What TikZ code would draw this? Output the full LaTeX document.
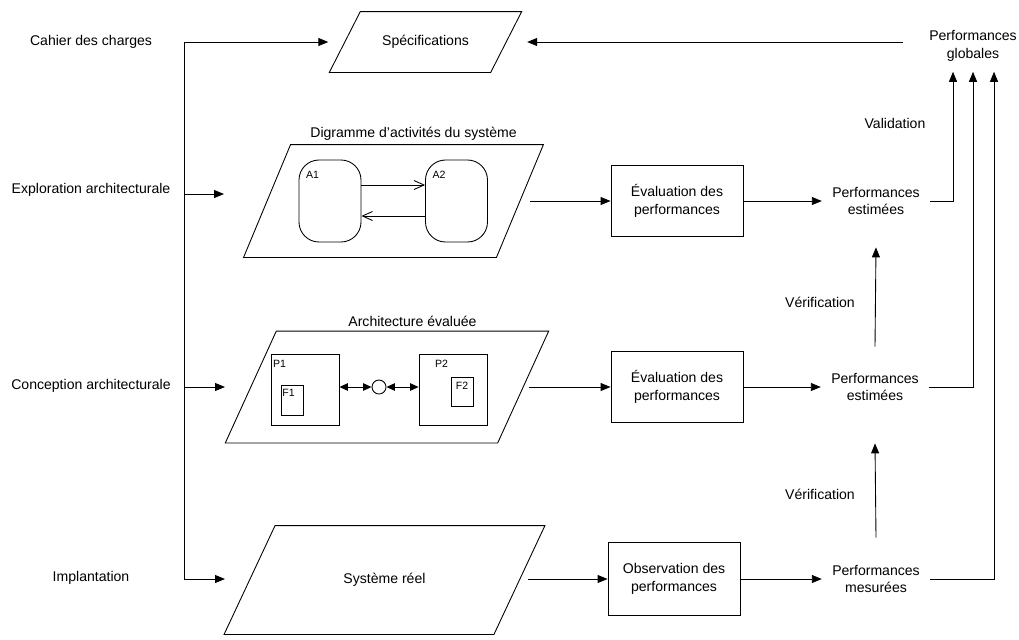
\documentclass[tikz,border=0pt]{standalone}
\usepackage{fontspec}
\setmainfont{Liberation Sans}
\usetikzlibrary{arrows.meta,positioning}

\begin{document}
\begin{tikzpicture}[
    font=\fontsize{8}{10}\selectfont,
    line width=0.5pt,
    para/.style={align=center, inner sep=0pt},
    box/.style={draw, align=center, minimum width=2.64cm, minimum height=1.42cm},
    perf/.style={align=center, inner sep=0.2cm},
    lbl/.style={align=center, inner sep=1pt},
    act/.style={draw, rounded corners=0.4cm, minimum width=1.24cm, minimum height=1.64cm},
    proc/.style={draw, minimum width=1.36cm, minimum height=1.42cm},
    fn/.style={draw, minimum width=0.44cm, minimum height=0.6cm},
    tag/.style={font=\fontsize{6}{7}\selectfont, inner sep=0pt},
    link/.style={draw, circle, minimum size=0.28cm, inner sep=0pt},
    arrow/.style={-{Triangle[length=2mm,width=1.6mm]}},
    openarrow/.style={-{Straight Barb[length=2mm,width=1.8mm]}},
    biarrow/.style={{Triangle[length=1.7mm,width=1.5mm]}-{Triangle[length=1.7mm,width=1.5mm]}}
  ]
    \useasboundingbox (0,0) rectangle (20.38,-12.78);

    % steps on the left
    \node[lbl] (cahier) at (1.82,-0.84) {Cahier des charges};
    \node[lbl] (explo) at (1.82,-3.80) {Exploration architecturale};
    \node[lbl] (concep) at (1.82,-7.72) {Conception architecturale};
    \node[lbl] (implant) at (1.82,-11.56) {Implantation};

    % models (slanted outlines drawn around the nodes)
    \node[para, minimum width=3.21cm, minimum height=1.2cm] (spec) at (8.51,-0.84) {Spécifications};
    \node[para, minimum width=5.04cm, minimum height=2.24cm] (para1) at (7.87,-4.02) {};
    \node[para, minimum width=5.43cm, minimum height=2.22cm] (para2) at (7.74,-7.74) {};
    \node[para, minimum width=5.38cm, minimum height=2.16cm] (para3) at (7.69,-11.6) {Système réel};

    \draw ([xshift=0.31cm]spec.north west) -- ([xshift=0.31cm]spec.north east)
      -- ([xshift=-0.31cm]spec.south east) -- ([xshift=-0.31cm]spec.south west) -- cycle;
    \draw ([xshift=0.47cm]para1.north west) -- ([xshift=0.47cm]para1.north east)
      -- ([xshift=-0.47cm]para1.south east) -- ([xshift=-0.47cm]para1.south west) -- cycle;
    \draw ([xshift=0.51cm]para2.north west) -- ([xshift=0.51cm]para2.north east)
      -- ([xshift=-0.51cm]para2.south east) -- ([xshift=-0.51cm]para2.south west) -- cycle;
    \draw ([xshift=0.51cm]para3.north west) -- ([xshift=0.51cm]para3.north east)
      -- ([xshift=-0.51cm]para3.south east) -- ([xshift=-0.51cm]para3.south west) -- cycle;

    \node[lbl, above=1pt of para1.north, xshift=0.4cm] (digr) {Digramme d'activités du système};
    \node[lbl, above=1pt of para2.north, xshift=0.51cm] (archi) {Architecture évaluée};

    % activity diagram
    \node[act] (a1) at ([xshift=-1.27cm]para1.center) {};
    \node[act] (a2) at ([xshift=1.26cm]para1.center) {};
    \node[tag] (a1t) at ([xshift=0.28cm,yshift=-0.3cm]a1.north west) {A1};
    \node[tag] (a2t) at ([xshift=0.28cm,yshift=-0.3cm]a2.north west) {A2};
    \draw[openarrow] ([yshift=0.32cm]a1.east) -- ([yshift=0.32cm]a2.west);
    \draw[openarrow] ([yshift=-0.3cm]a2.west) -- ([yshift=-0.3cm]a1.east);

    % architecture
    \node[proc] (p1) at ([xshift=-1.64cm,yshift=-0.05cm]para2.center) {};
    \node[proc] (p2) at ([xshift=1.32cm,yshift=-0.05cm]para2.center) {};
    \node[link] (bus) at ([xshift=-0.16cm]para2.center) {};
    \node[fn] (f1) at ([xshift=-0.26cm,yshift=-0.22cm]p1.center) {};
    \node[fn, minimum height=0.58cm] (f2) at ([xshift=0.18cm,yshift=-0.04cm]p2.center) {};
    \node[tag] (p1t) at ([xshift=0.18cm,yshift=-0.2cm]p1.north west) {P1};
    \node[tag] (p2t) at ([xshift=0.46cm,yshift=-0.2cm]p2.north west) {P2};
    \node[tag] (f1t) at ([xshift=0.16cm,yshift=-0.15cm]f1.north west) {F1};
    \node[tag] (f2t) at ([yshift=-0.18cm]f2.north) {F2};
    \draw[biarrow] (p1.east |- bus) -- (bus);
    \draw[biarrow] (bus) -- (p2.west |- bus);

    % evaluation
    \node[box] (eval1) at (13.54,-4.02) {Évaluation des\\performances};
    \node[box] (eval2) at (13.54,-7.74) {Évaluation des\\performances};
    \node[box, minimum height=1.46cm] (obs) at (13.48,-11.58) {Observation des\\performances};

    \node[perf] (perf1) at (17.52,-4.02) {Performances\\estimées};
    \node[perf] (perf2) at (17.5,-7.74) {Performances\\estimées};
    \node[perf] (perf3) at (17.52,-11.58) {Performances\\mesurées};
    \node[perf] (glob) at (19.46,-0.92) {Performances\\globales};

    \node[lbl] (valid) at (17.9,-2.46) {Validation};
    \node[lbl] (verif1) at (16.4,-6.04) {Vérification};
    \node[lbl] (verif2) at (16.4,-9.88) {Vérification};

    % trunk on the left
    \coordinate (jTop) at (3.68,-0.84);
    \coordinate (jExp) at (3.68,-3.88);
    \coordinate (jCon) at (3.68,-7.74);
    \coordinate (jBot) at (3.68,-11.58);
    \coordinate (eExp) at (4.48,-3.88);
    \coordinate (eCon) at (4.5,-7.74);
    \coordinate (eImp) at (4.5,-11.58);
    \coordinate (gOut) at (18.06,-0.84);

    \draw[arrow] (jBot) -- (jTop) -- ([xshift=-0.33cm]spec.west);
    \draw[arrow] (jExp) -- (eExp);
    \draw[arrow] (jCon) -- (eCon);
    \draw[arrow] (jBot) -- (eImp);

    \draw[arrow] ([xshift=0.21cm]para1.east) -- (eval1);
    \draw[arrow] ([xshift=0.12cm]para2.east) -- (eval2);
    \draw[arrow] ([xshift=0.18cm]para3.east |- obs) -- (obs);
    \draw[arrow] (eval1) -- (perf1);
    \draw[arrow] (eval2) -- (perf2);
    \draw[arrow] (obs) -- (perf3);

    \draw[arrow] ([yshift=0.34cm]perf3.north) -- ([yshift=-0.64cm]perf2.south);
    \draw[arrow] ([yshift=0.32cm]perf2.north) -- ([yshift=-0.44cm]perf1.south);

    \draw[arrow] (perf1.east) -| ([xshift=-0.4cm]glob.south);
    \draw[arrow] (perf2.east) -| (glob.south);
    \draw[arrow] (perf3.east) -| ([xshift=0.42cm]glob.south);
    \draw[arrow] (gOut) -- ([xshift=0.42cm]spec.east);
  \end{tikzpicture}
\end{document}
